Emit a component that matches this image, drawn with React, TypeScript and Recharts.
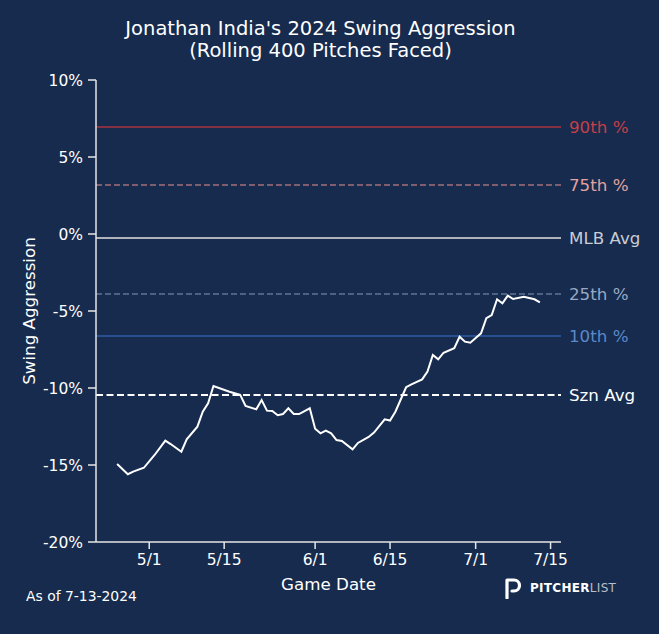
import React from 'react';
import { LineChart, Line, XAxis, YAxis, ReferenceLine } from 'recharts';

const dates = [
  '2024-04-25','2024-04-27','2024-04-28','2024-04-30','2024-05-02','2024-05-04','2024-05-05','2024-05-07','2024-05-08','2024-05-10',
  '2024-05-11','2024-05-12','2024-05-13','2024-05-16','2024-05-18','2024-05-19','2024-05-21','2024-05-22','2024-05-23','2024-05-24',
  '2024-05-25','2024-05-26','2024-05-27','2024-05-28','2024-05-29','2024-05-31','2024-06-01','2024-06-02','2024-06-03','2024-06-04',
  '2024-06-05','2024-06-06','2024-06-08','2024-06-09','2024-06-11','2024-06-12','2024-06-14','2024-06-15','2024-06-16','2024-06-18',
  '2024-06-19','2024-06-21','2024-06-22','2024-06-23','2024-06-24','2024-06-25','2024-06-27','2024-06-28','2024-06-29','2024-06-30',
  '2024-07-02','2024-07-03','2024-07-04','2024-07-05','2024-07-06','2024-07-07','2024-07-08','2024-07-10','2024-07-12','2024-07-13',
];

const aggression = [
  -14.94, -15.6, -15.43, -15.18, -14.35, -13.42, -13.64, -14.14, -13.33, -12.51,
  -11.54, -10.99, -9.87, -10.24, -10.45, -11.17, -11.38, -10.78, -11.47, -11.49,
  -11.77, -11.69, -11.32, -11.69, -11.69, -11.32, -12.65, -12.94, -12.76, -12.94,
  -13.38, -13.44, -13.98, -13.57, -13.18, -12.89, -12.03, -12.11, -11.54, -9.95,
  -9.76, -9.44, -8.94, -7.86, -8.14, -7.71, -7.42, -6.67, -6.99, -7.06,
  -6.45, -5.47, -5.26, -4.24, -4.5, -4.0, -4.22, -4.07, -4.24, -4.44,
];

const refNames = ['90th %', '75th %', 'MLB Avg', '25th %', '10th %', 'Szn Avg'];
const refValues = [6.95, 3.18, -0.26, -3.9, -6.62, -10.45];
const refLineColors = ['#a8343f', '#a1707b', '#aeb2ba', '#5d7698', '#2d5ea6', '#ffffff'];
const refTextColors = ['#c43f48', '#e3a29f', '#c9cdd3', '#98a9c4', '#5b88c8', '#ffffff'];
const refDash = ['', '6 3', '', '6 3', '', '7 3.5'];
const refWidth = [1.5, 1.5, 2, 1.5, 1.5, 2];

const xTickDates = ['2024-05-01', '2024-05-15', '2024-06-01', '2024-06-15', '2024-07-01', '2024-07-15'];
const xTickLabels = ['5/1', '5/15', '6/1', '6/15', '7/1', '7/15'];
const yTicks = [-20, -15, -10, -5, 0, 5, 10];

const DAY = 86400000;
const base = Date.UTC(2024, 3, 25);
const dayIndex = (s: string) => {
  const [y, m, d] = s.split('-').map(Number);
  return Math.round((Date.UTC(y, m - 1, d) - base) / DAY);
};

const data = dates.map((s, i) => ({ d: dayIndex(s), v: aggression[i] }));
const xTicks = xTickDates.map(dayIndex);
const first = data[0].d;
const last = data[data.length - 1].d;
const pad = (last - first) * 0.05;

const BG = '#162b4e';
const FONT = 'DejaVu Sans, sans-serif';

export default function App() {
  return (
    <div style={{ position: 'absolute', left: 0, top: 0, width: 659, height: 634, background: BG, fontFamily: FONT }}>
      <div style={{ position: 'absolute', left: 0, top: 18, width: 641, textAlign: 'center', color: '#ffffff', fontSize: 19.5, lineHeight: '22px' }}>
        Jonathan India's 2024 Swing Aggression<br />(Rolling 400 Pitches Faced)
      </div>
      <LineChart width={659} height={634} data={data} margin={{ top: 80, right: 98, bottom: 62, left: 36 }}>
        <XAxis
          dataKey="d"
          type="number"
          domain={[first - pad, last + pad]}
          allowDataOverflow
          ticks={xTicks}
          tickFormatter={(v: number) => xTickLabels[xTicks.indexOf(v)]}
          height={30}
          stroke="#e6e6e6"
          strokeWidth={1.5}
          tickSize={7}
          tickMargin={5}
          tick={{ fill: '#ffffff', fontSize: 15.5, fontFamily: FONT }}
          label={{ value: 'Game Date', position: 'insideBottom', offset: -18, fill: '#ffffff', fontSize: 16.7, fontFamily: FONT }}
        />
        <YAxis
          type="number"
          domain={[-20, 10]}
          ticks={yTicks}
          tickFormatter={(v: number) => `${v}%`}
          width={60}
          stroke="#e6e6e6"
          strokeWidth={1.5}
          tickSize={8}
          tickMargin={5}
          tick={{ fill: '#ffffff', fontSize: 15.5, fontFamily: FONT }}
          label={(props: any) => {
            const vb = props.viewBox || { y: 80, height: 462 };
            const cy = vb.y + vb.height / 2;
            return (
              <text x={29} y={cy} transform={`rotate(-90, 29, ${cy})`} textAnchor="middle" dominantBaseline="central" fill="#ffffff" fontSize={16.7} fontFamily={FONT}>
                Swing Aggression
              </text>
            );
          }}
        />
        {refValues.map((val, i) => (
          <ReferenceLine
            key={refNames[i]}
            y={val}
            stroke={refLineColors[i]}
            strokeWidth={refWidth[i]}
            strokeDasharray={refDash[i] || undefined}
            label={{ value: refNames[i], position: 'right', offset: 8, fill: refTextColors[i], fontSize: 16.7, fontFamily: FONT }}
          />
        ))}
        <Line type="linear" dataKey="v" stroke="#ffffff" strokeWidth={2} dot={false} isAnimationActive={false} />
      </LineChart>
      <div style={{ position: 'absolute', left: 26, top: 588, color: '#ffffff', fontSize: 13.9 }}>As of 7-13-2024</div>
      <div style={{ position: 'absolute', left: 505, top: 577, display: 'flex', alignItems: 'center' }}>
        <svg width={18} height={22} viewBox="0 0 18 22">
          <path d="M2 21 V3 H9 A5.5 5.5 0 0 1 9 14 H7" fill="none" stroke="#ffffff" strokeWidth={3.2} strokeLinecap="round" strokeLinejoin="round" />
        </svg>
        <span style={{ marginLeft: 7, fontSize: 12, color: '#ffffff', fontWeight: 'bold', letterSpacing: 0.3 }}>PITCHER</span>
        <span style={{ fontSize: 12, color: '#b8bfca', letterSpacing: 0.3 }}>LIST</span>
      </div>
    </div>
  );
}
